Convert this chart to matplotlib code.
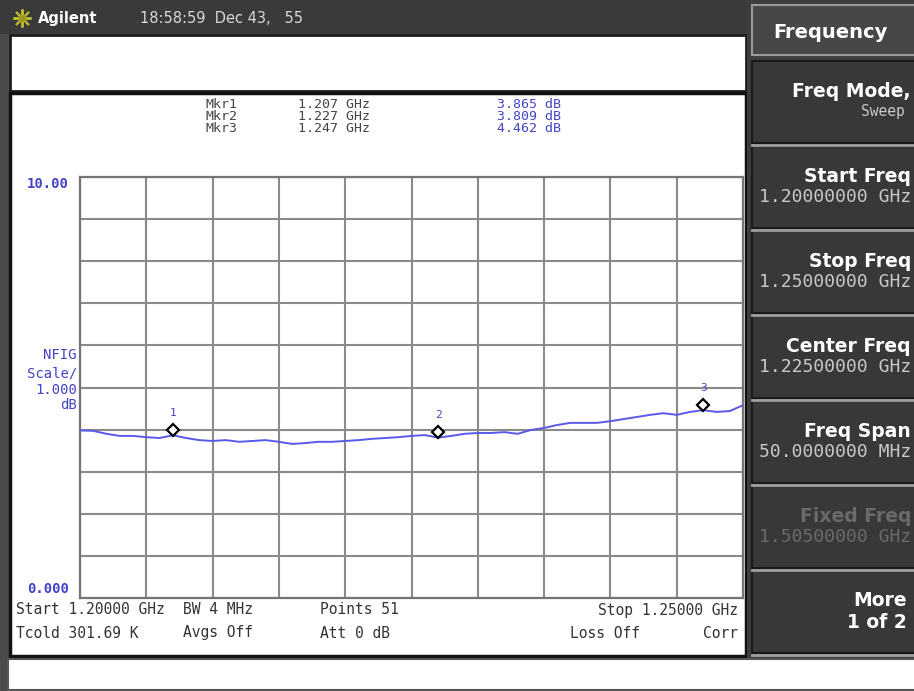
import numpy as np
import matplotlib.pyplot as plt
from matplotlib.patches import Rectangle
from matplotlib.transforms import offset_copy

# Sweep settings (from the instrument annotation)
start_ghz, stop_ghz, n_points = 1.200, 1.250, 51
freq_ghz = np.linspace(start_ghz, stop_ghz, n_points)

# Noise figure trace (dB)
nf_db = [3.98, 3.97, 3.90, 3.85, 3.85, 3.82, 3.80, 3.865, 3.80, 3.75,
         3.73, 3.75, 3.71, 3.73, 3.75, 3.71, 3.66, 3.68, 3.71, 3.71,
         3.73, 3.75, 3.78, 3.80, 3.82, 3.85, 3.87, 3.809, 3.85, 3.90,
         3.92, 3.92, 3.94, 3.90, 3.99, 4.04, 4.11, 4.16, 4.16, 4.16,
         4.20, 4.25, 4.30, 4.35, 4.39, 4.35, 4.42, 4.462, 4.42, 4.44,
         4.58]

# Markers
mkr_names = ['Mkr1', 'Mkr2', 'Mkr3']
mkr_freq = [1.207, 1.227, 1.247]
mkr_db = [3.865, 3.809, 4.462]

# Softkey menu
key_titles = ['Freq Mode,', 'Start Freq', 'Stop Freq', 'Center Freq',
              'Freq Span', 'Fixed Freq', 'More']
key_values = ['Sweep', '1.20000000 GHz', '1.25000000 GHz', '1.22500000 GHz',
              '50.0000000 MHz', '1.50500000 GHz', '1 of 2']

blue = '#4343c8'
mono = 'DejaVu Sans Mono'

W, H = 914, 691
fig = plt.figure(figsize=(9.14, 6.91), dpi=100)
fig.patch.set_facecolor('#4b4b4b')
bg = fig.add_axes([0, 0, 1, 1])
bg.set_xlim(0, W)
bg.set_ylim(H, 0)
bg.axis('off')


def box(x0, y0, x1, y1, fc, ec='none', lw=0):
    bg.add_patch(Rectangle((x0, y0), x1 - x0, y1 - y0, facecolor=fc,
                           edgecolor=ec, linewidth=lw))


# frame pieces of the screen
box(0, 0, 748, 34, '#3a3a3a')
box(10, 35, 746, 91, 'white', '#1e1e1e', 2)
box(10, 93, 746, 656, 'white', '#111111', 2.5)
box(8, 659, W + 2, 690, 'white', '#555555', 1.5)
box(747, 0, W + 2, 658, '#3d3d3d')

# header
bg.plot([22], [18], marker=(8, 2, 0), ms=13, color='#b8b830', mew=1.5)
bg.plot([22], [18], 'o', ms=4, color='#9a9a20')
bg.text(38, 18, 'Agilent', color='white', fontsize=10.5, fontweight='bold',
        va='center')
bg.text(140, 18, '18:58:59  Dec 43,   55', color='#d8d8d8', fontsize=10.5,
        va='center')

# softkeys
box(752, 5, W + 5, 55, '#474747', '#9a9a9a', 1.5)
bg.text(773, 32, 'Frequency', color='white', fontsize=14, fontweight='bold',
        va='center')
for i, (t, v) in enumerate(zip(key_titles, key_values)):
    top = 61 + i * 85
    box(752, top, W + 5, top + 82, '#383838', '#1a1a1a', 1.5)
    bg.plot([752, W], [top + 84, top + 84], color='#a0a0a0', lw=2)
    tc, vc = ('white', '#c8c8c8') if t != 'Fixed Freq' else ('#6a6a6a', '#6a6a6a')
    if t == 'More':
        bg.text(907, top + 30, t, color=tc, fontsize=13.5, fontweight='bold',
                ha='right', va='center')
        bg.text(907, top + 52, v, color=tc, fontsize=13.5, fontweight='bold',
                ha='right', va='center')
    elif t == 'Freq Mode,':
        bg.text(911, top + 30, t, color=tc, fontsize=13.5, fontweight='bold',
                ha='right', va='center')
        bg.text(905, top + 50, v, color=vc, fontsize=10.5, family=mono,
                ha='right', va='center')
    else:
        bg.text(911, top + 30, t, color=tc, fontsize=13.5, fontweight='bold',
                ha='right', va='center')
        bg.text(911, top + 51, v, color=vc, fontsize=13, family=mono,
                ha='right', va='center')

# marker readout
for i in range(3):
    y = 104 + i * 12
    bg.text(205, y, mkr_names[i], color='#444444', fontsize=9.5, family=mono,
            va='center')
    bg.text(298, y, f'{mkr_freq[i]:.3f} GHz', color='#444444', fontsize=9.5,
            family=mono, va='center')
    bg.text(497, y, f'{mkr_db[i]:.3f} dB', color=blue, fontsize=9.5,
            family=mono, va='center')

# scale labels
bg.text(69, 184, '10.00', color=blue, fontsize=10, family=mono,
        fontweight='bold', ha='right', va='center')
bg.text(69, 589, '0.000', color=blue, fontsize=10, family=mono,
        fontweight='bold', ha='right', va='center')
for s, y in zip(['NFIG', 'Scale/', '1.000', 'dB'], [355, 373, 390, 405]):
    bg.text(77, y, s, color=blue, fontsize=10, family=mono, ha='right',
            va='center')

# bottom annotation
row1 = [(16, 'Start 1.20000 GHz'), (183, 'BW 4 MHz'), (320, 'Points 51')]
row2 = [(16, 'Tcold 301.69 K'), (183, 'Avgs Off'), (320, 'Att 0 dB'),
        (570, 'Loss Off')]
for x, s in row1:
    bg.text(x, 610, s, color='#333333', fontsize=10.5, family=mono, va='center')
for x, s in row2:
    bg.text(x, 633, s, color='#333333', fontsize=10.5, family=mono, va='center')
bg.text(738, 610, 'Stop 1.25000 GHz', color='#333333', fontsize=10.5,
        family=mono, ha='right', va='center')
bg.text(738, 633, 'Corr', color='#333333', fontsize=10.5, family=mono,
        ha='right', va='center')

# graticule
ax = fig.add_axes([80 / W, (H - 598) / H, 663 / W, 421 / H])
ax.set_facecolor('white')
ax.set_xlim(start_ghz, stop_ghz)
ax.set_ylim(0, 10)
ax.set_xticks(np.linspace(start_ghz, stop_ghz, 11))
ax.set_yticks(np.arange(0, 11, 1))
ax.tick_params(length=0, labelbottom=False, labelleft=False)
ax.grid(True, color='#8a8a8a', lw=1.5)
for sp in ax.spines.values():
    sp.set_color('#757575')
    sp.set_linewidth(1.6)

ax.plot(freq_ghz, nf_db, color='#5a5ae8', lw=1.4, zorder=3)
mk_tr = offset_copy(ax.transData, fig=fig, x=0, y=4, units='points')
ax.plot(mkr_freq, mkr_db, 'D', ms=6, mfc='white', mec='black', mew=1.6,
        transform=mk_tr, zorder=4)
for i, (f, v) in enumerate(zip(mkr_freq, mkr_db)):
    ax.annotate(str(i + 1), (f, v), xytext=(0, 16), textcoords='offset points',
                ha='center', va='center', color=blue, fontsize=8, family=mono,
                zorder=5)

fig.savefig('out.png', dpi=100, facecolor=fig.get_facecolor())
